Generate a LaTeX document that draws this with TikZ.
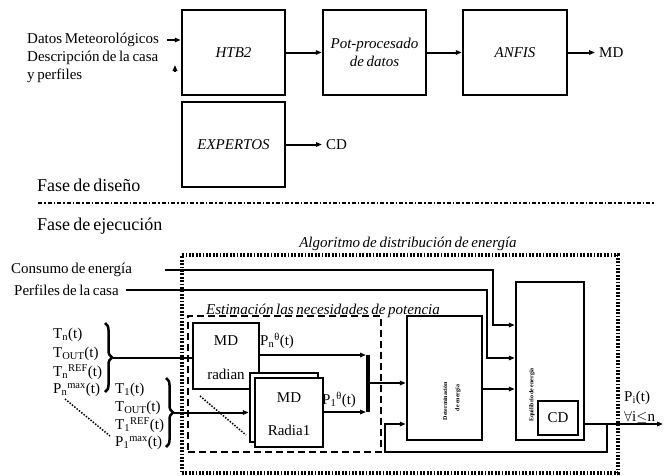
\documentclass[tikz,border=0pt]{standalone}
\usepackage{fontspec}
\setmainfont{Liberation Serif}[WordSpace=0.7]
\usetikzlibrary{arrows.meta,decorations.pathreplacing,calc}
\begin{document}
\begin{tikzpicture}[x=1pt,y=-1pt,
  box/.style={draw,line width=2.5pt,inner sep=0pt,fill=white},
  conn/.style={line width=2pt},
  arr/.style={conn,-{Triangle[length=6pt,width=4.5pt]}},
  lbl/.style={font=\fontsize{15}{18}\selectfont,inner sep=1pt},
  ital/.style={font=\fontsize{15}{18}\selectfont\itshape,inner sep=1pt},
  tinytxt/.style={font=\fontsize{6}{6}\selectfont\bfseries,rotate=90,inner sep=0pt},
  bracestyle/.style={decorate,decoration={brace,amplitude=7pt},line width=2.5pt},
  dotline/.style={line width=1.5pt,dash pattern=on 1.5pt off 1.5pt},
  sepline/.style={line width=1.5pt,dash pattern=on 4pt off 2pt on 1.5pt off 2pt},
  algbox/.style={draw,line width=4pt,dash pattern=on 1.8pt off 1.6pt,inner sep=0pt},
  estbox/.style={draw,line width=2pt,dash pattern=on 7pt off 4pt,inner sep=0pt},
]
\useasboundingbox (0,0) rectangle (667,475);

% ---------- design phase ----------
\node[box,ital,minimum width=103pt,minimum height=85pt] (htb2) at (233.5,52.5) {HTB2};
\node[box,ital,align=center,minimum width=103pt,minimum height=85pt] (pot) at (374.5,52.5) {Pot-procesado\\de datos};
\node[box,ital,minimum width=104pt,minimum height=85pt] (anfis) at (515,52.5) {ANFIS};
\node[box,ital,minimum width=103pt,minimum height=85pt] (exp) at (233.5,144.5) {EXPERTOS};

\node[lbl,anchor=west] (datos) at (26,40) {Datos Meteorológicos};
\node[lbl,anchor=north west,align=left] (desc) at (26,50) {Descripción de la casa\\y perfiles};
\coordinate (dA) at (167,40);
\draw[arr] (dA) -- (dA -| htb2.west);
\coordinate (dB1) at (175,72);
\coordinate (dB2) at (175,65);
\draw[arr] (dB1) -- (dB2);

\draw[arr] (htb2) -- (pot);
\draw[arr] (pot) -- (anfis);
\node[lbl,anchor=west,inner sep=4pt] (md) at (595,52.5) {MD};
\draw[arr] (anfis) -- (md);
\node[lbl,anchor=west,inner sep=4pt] (cd) at (322,144.5) {CD};
\draw[arr] (exp) -- (cd);

\node[font=\fontsize{18}{20}\selectfont,anchor=west,inner sep=1pt] (fd) at (36,185) {Fase de diseño};
\coordinate (s1) at (38,203);
\coordinate (s2) at (655,203);
\draw[sepline] (s1) -- (s2);
\node[font=\fontsize{18}{20}\selectfont,anchor=west,inner sep=1pt] (fe) at (36,226) {Fase de ejecución};

% ---------- execution phase ----------
\node[estbox,minimum width=193pt,minimum height=136pt] (est) at (284.5,384) {};
\node[ital,anchor=base] (estt) at (323,314) {Estimación las necesidades de potencia};
\node[algbox,minimum width=436pt,minimum height=218pt] (alg) at (400,364) {};
\node[ital,anchor=base] (algt) at (408,247) {Algoritmo de distribución de energía};

\node[box,minimum width=75pt,minimum height=124pt] (det) at (444.5,378) {};
\node[tinytxt] (dett1) at (445,401) {Determinación};
\node[tinytxt] (dett2) at (458,398) {de energía};
\node[box,minimum width=68pt,minimum height=158pt] (eq) at (550,361) {};
\node[tinytxt] (eqt) at (532,395) {Equilibrio de energía};
\node[box,lbl,minimum width=40pt,minimum height=34pt] (cd2) at (558,418) {CD};

\node[lbl,anchor=west] (cons) at (10,270) {Consumo de energía};
\node[lbl,anchor=west] (perf) at (13,290) {Perfiles de la casa};
\coordinate (cs) at (165,270);
\coordinate (k1) at (493,325);
\draw[arr] (cs) -| (k1) -- (k1 -| eq.west);
\coordinate (ps) at (126,290);
\coordinate (k2) at (487,358);
\draw[arr] (ps) -| (k2) -- (k2 -| eq.west);

% MD boxes
\node[box,minimum width=66pt,minimum height=66pt] (radn) at (226,356) {};
\node[lbl] (radnmd) at (226,341) {MD};
\node[lbl] (radnr) at (226,374) {radian};
\node[box,minimum width=68pt,minimum height=69pt] (rad1b) at (284,407.5) {};
\node[box,minimum width=68pt,minimum height=69pt] (rad1) at (289,412.5) {};
\node[lbl] (rad1md) at (289,398) {MD};
\node[lbl] (rad1r) at (289,430) {Radia1};

% input labels n
\node[lbl,anchor=west] (tn) at (52,335) {T\textsubscript{n}(t)};
\node[lbl,anchor=west] (toutn) at (52,354) {T\textsubscript{OUT}(t)};
\node[lbl,anchor=west] (trefn) at (52,372) {T\textsubscript{n}\textsuperscript{REF}(t)};
\node[lbl,anchor=west] (pmaxn) at (52,390) {P\textsubscript{n}\textsuperscript{max}(t)};
% input labels 1
\node[lbl,anchor=west] (t1) at (114,390) {T\textsubscript{1}(t)};
\node[lbl,anchor=west] (tout1) at (114,408) {T\textsubscript{OUT}(t)};
\node[lbl,anchor=west] (tref1) at (114,425) {T\textsubscript{1}\textsuperscript{REF}(t)};
\node[lbl,anchor=west] (pmax1) at (114,443) {P\textsubscript{1}\textsuperscript{max}(t)};

\coordinate (bnA) at (105,323);
\coordinate (bnB) at (105,392);
\draw[bracestyle] (bnA) -- (bnB);
\coordinate (bn) at (113,357.5);
\draw[conn] (bn) -- (bn -| radn.west);
\coordinate (b1A) at (166,378);
\coordinate (b1B) at (166,447);
\draw[bracestyle] (b1A) -- (b1B);
\coordinate (b1) at (174,412.5);
\draw[arr] (b1) -- (b1 -| rad1b.west);

\coordinate (dl1) at (65,399);
\coordinate (dl2) at (110,436);
\draw[dotline] (dl1) -- (dl2);
\coordinate (dl3) at (200,396);
\coordinate (dl4) at (246,435);
\draw[dotline] (dl3) -- (dl4);

% outputs of MD boxes
\node[lbl,anchor=west] (pnt) at (259,341) {P\textsubscript{n}\textsuperscript{θ}(t)};
\node[lbl,anchor=west] (p1t) at (321,400) {P\textsubscript{1}\textsuperscript{θ}(t)};
\coordinate (bt) at (368,355);
\coordinate (bb) at (368,412);
\draw[line width=4pt] (bt) -- (bb);
\draw[arr,shorten >=2pt] (radn.east |- bt) -- (bt);
\draw[arr,shorten >=2pt] (rad1.east |- bb) -- (bb);
\coordinate (bm) at (368,383);
\draw[arr] (bm) -- (bm -| det.west);

\coordinate (k3) at (482,389);
\draw[arr] (det.east |- k3) -- (eq.west |- k3);

\coordinate (o2) at (663,424);
\draw[arr] (eq.east |- o2) -- (o2);
\coordinate (f1) at (607,424);
\coordinate (f2) at (385,452);
\draw[arr] (f1) |- (f2) |- (det.west |- f1);

\node[lbl,anchor=west] (pit) at (623,398) {P\textsubscript{i}(t)};
\node[lbl,anchor=west] (fa) at (623,417) {$\forall$i$\leq$n};
\end{tikzpicture}
\end{document}
